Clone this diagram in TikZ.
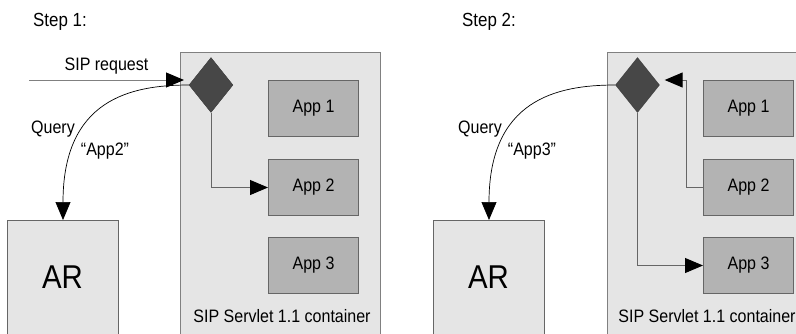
\documentclass[tikz,border=0pt]{standalone}
\usepackage{fontspec}
\setmainfont{Liberation Sans}[FakeStretch=0.89]
\usetikzlibrary{shapes.geometric,arrows.meta}

\definecolor{contfill}{HTML}{E5E5E5}
\definecolor{contline}{HTML}{808080}
\definecolor{appfill}{HTML}{B3B3B3}
\definecolor{appline}{HTML}{666666}
\definecolor{diamfill}{HTML}{474747}

\begin{document}
\begin{tikzpicture}[x=1pt, y=-1pt,
	container/.style = {draw=contline, fill=contfill, line width=1pt, minimum width=200pt, minimum height=300pt, inner sep=0pt, anchor=north west},
	appbox/.style = {draw=appline, fill=appfill, line width=1pt, minimum width=90pt, minimum height=56pt, inner sep=0pt, anchor=north west, font=\fontsize{18}{20}\selectfont},
	arbox/.style = {draw=appline, fill=contfill, line width=1pt, minimum width=111pt, minimum height=130pt, inner sep=0pt, anchor=north west},
	chooser/.style = {diamond, draw=diamfill!80!black, fill=diamfill, minimum width=44pt, minimum height=55pt, inner sep=0pt},
	txt/.style = {inner sep=0pt, anchor=base, font=\fontsize{18}{20}\selectfont},
	link/.style = {draw=contline!80!black, line width=1pt, -{Triangle[length=18pt,width=15pt,color=black]}},
	query/.style = {draw=black, line width=0.7pt, -{Triangle[length=18pt,width=15pt,color=black]}}]
			\fill[white] (0,0) rectangle (796,333);
			\useasboundingbox (0,0) rectangle (796,333);
			\clip (0,0) rectangle (796,333);

			% step 1
			\node[txt, anchor=base west, font=\fontsize{19}{20}\selectfont] (step1) at (33,26) {Step 1:};
			\node[container] (cont1) at (180,52) {};
			\node[chooser] (diam1) at (211,85) {};
			\node[appbox] (app11) at (268,80) {App 1};
			\node[appbox] (app12) at (268,159) {App 2};
			\node[appbox] (app13) at (268,237) {App 3};
			\node[txt] (contlabel1) at (282,322) {SIP Servlet 1.1 container};
			\node[arbox] (ar1) at (7,220) {};
			\node[txt, font=\fontsize{33}{36}\selectfont] (arlabel1) at (62.5,288) {AR};

			\coordinate (sipin1) at (29,80);
			\coordinate (sipend1) at (184,80);
			\draw[link, draw=contline] (sipin1) -- (sipend1) node[txt, midway, above=5pt] (siplabel1) {SIP request};
			\draw[query] (diam1.west) .. controls +(-59,0) and +(0,-120) .. (ar1.north);
			\node[txt] (querylabel1) at (53,133) {Query};
			\node[txt] (answer1) at (105,155) {``App2''};
			\draw[link] (diam1.south) |- (app12.west);

			% step 2
			\node[txt, anchor=base west, font=\fontsize{19}{20}\selectfont] (step2) at (462,26) {Step 2:};
			\node[container] (cont2) at (607,52) {};
			\node[chooser] (diam2) at (637.5,85) {};
			\node[appbox] (app21) at (703,80) {App 1};
			\node[appbox] (app22) at (703,159) {App 2};
			\node[appbox] (app23) at (703,237) {App 3};
			\node[txt] (contlabel2) at (707,322) {SIP Servlet 1.1 container};
			\node[arbox] (ar2) at (433,220) {};
			\node[txt, font=\fontsize{33}{36}\selectfont] (arlabel2) at (488.5,288) {AR};

			\draw[query] (diam2.west) .. controls +(-59,0) and +(0,-120) .. (ar2.north);
			\node[txt] (querylabel2) at (480,133) {Query};
			\node[txt] (answer2) at (532,155) {``App3''};
			\draw[link] (app22.west) -- ++(-17,0) |- ([xshift=5pt,yshift=5pt]diam2.east);
			\draw[link] (diam2.south) |- (app23.west);

		\end{tikzpicture}
\end{document}
